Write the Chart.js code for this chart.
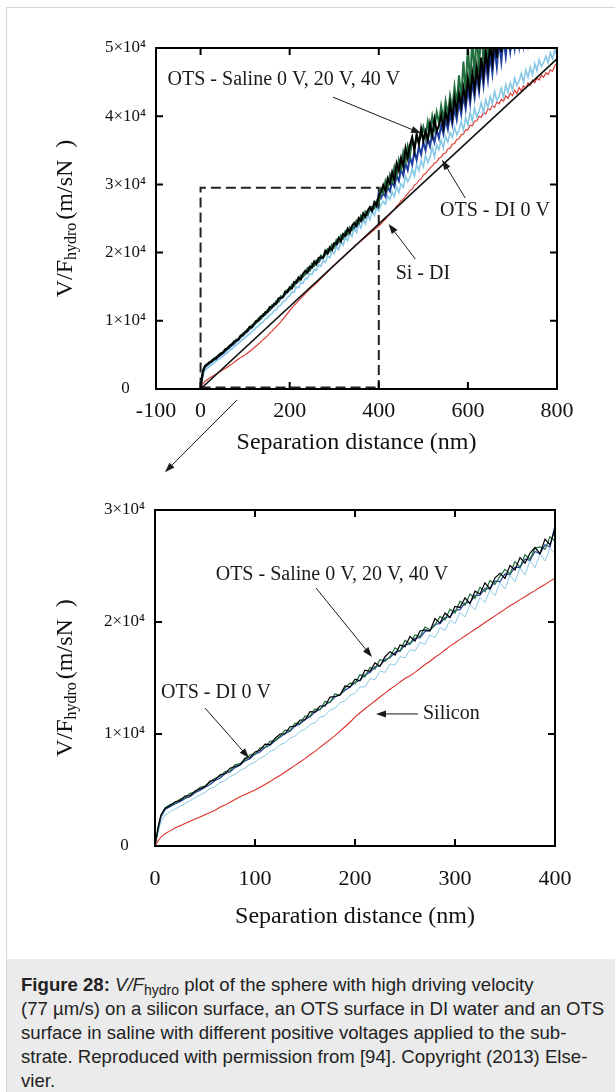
<!DOCTYPE html>
<html>
<head>
<meta charset="utf-8">
<script src="https://cdn.jsdelivr.net/npm/chart.js@4.4.1/dist/chart.umd.min.js"></script>
<style>
html,body{margin:0;padding:0;background:#fff;}
body{width:615px;height:1092px;position:relative;overflow:hidden;font-family:"Liberation Sans",Arial,sans-serif;}
#frame{position:absolute;left:6px;top:7px;right:-2px;bottom:-2px;border-left:1px solid #d6d6d6;border-top:1px solid #d6d6d6;}
#topChart{position:absolute;left:0;top:0;}
#bottomChart{position:absolute;left:0;top:480px;}
.caption{position:absolute;left:7px;top:959px;right:0;bottom:0;background:#ebebeb;padding:14px 0 0 14px;font-size:18.6px;line-height:24px;color:#222;}
.caption sub{font-size:14px;vertical-align:-4px;line-height:0;}
</style>
</head>
<body>
<div id="frame"></div>
<canvas id="topChart" width="615" height="480"></canvas>
<canvas id="bottomChart" width="615" height="470"></canvas>
<div class="caption"><b>Figure 28:</b> <i>V/F</i><sub>hydro</sub> plot of the sphere with high driving velocity<br>(77 µm/s) on a silicon surface, an OTS surface in DI water and an OTS<br>surface in saline with different positive voltages applied to the sub-<br>strate. Reproduced with permission from [94]. Copyright (2013) Else-<br>vier.</div>
<script>
// separation distance (nm) shared by all curves
const separationNm = [
  0,3,6,10,15,20,25,30,35,40,45,50,
  55,60,65,70,75,80,85,90,95,100,
  105,110,115,120,125,130,135,140,145,150,
  155,160,165,170,175,180,185,190,195,200,
  205,210,215,220,225,230,235,240,245,250,
  255,260,265,270,275,280,285,290,295,300,
  305,310,315,320,325,330,335,340,345,350,
  355,360,365,370,375,380,385,390,395,400,
  405,410,415,420,425,430,435,440,445,450,
  455,460,465,470,475,480,485,490,495,500,
  505,510,515,520,525,530,535,540,545,550,
  555,560,565,570,575,580,585,590,595,600,
  605,610,615,620,625,630,635,640,645,650,
  655,660,665,670,675,680,685,690,695,700,
  705,710,715,720,725,730,735,740,745,750,
  755,760,765,770,775,780,785,790,795,800
];
// V/F_hydro (m/sN)
const salineBlack = [
  0,1700,2800,3350,3600,3950,4050,4450,4500,4900,5100,5300,
  5800,5900,6350,6450,6950,7100,7250,7850,7900,8400,
  8550,9100,9050,9600,10000,10000,10650,10700,11250,11250,
  12000,11950,12500,12500,13300,13350,13500,14300,14200,14900,
  14750,15700,15600,16350,16050,16900,17350,17050,17950,17800,
  18700,18300,19200,19300,19200,20300,19900,20800,20400,21400,
  21300,22150,21650,22750,22500,23500,22950,23950,24350,23900,
  25050,24650,25750,25250,26150,26650,26100,27400,26900,28300,
  28900,29900,29000,30900,30100,31800,30600,33100,32000,33900,
  32600,35300,33800,35800,36900,34900,37300,35900,38200,36400,
  37800,36500,38900,37200,39600,37800,38600,40100,38300,40600,
  39200,41800,39700,42600,40800,43300,41500,44200,42300,45500,
  43100,46300,43900,47200,44600,48600,45800,49500,46900,50600,
  47800,51500,48600,52500,49400,53200,50200,54000,49800,54500,
  50600,55000,50100,55500,51200,56000,50800,56000,51500,56500,
  51800,57000,52300,57000,52500,57500,53000,57500,53500,58000
];
const salineGreen = [
  0,1500,2700,3400,3700,3800,4200,4300,4700,4800,5250,5350,
  5700,6050,6200,6650,6700,7250,7350,7650,8150,8200,
  8750,8800,9350,9400,9800,10350,10300,10950,10950,11600,
  11600,12250,12150,12900,12800,13600,13450,14100,14550,14500,
  15300,15100,15950,15800,16650,16500,16900,17700,17400,18350,
  18050,18850,18700,19550,19300,19700,20500,20200,21150,20800,
  21850,21500,22500,22100,23100,22700,23700,23350,24100,24700,
  24300,25400,24900,26000,25600,26600,26700,26500,27600,27200,
  29300,28700,30500,29600,31400,30400,32500,31300,33600,32400,
  34700,33300,35600,34300,36600,35400,37300,36200,37100,38400,
  36800,39200,37500,40000,38200,40600,39000,41500,39600,42200,
  40200,43000,41000,44300,41800,46000,42600,48000,43500,50500,
  44200,52000,45300,53000,46300,54000,47400,54500,48200,55000,
  49000,55500,49500,56000,50000,56000,50500,56500,51000,57000,
  51500,57000,52000,57500,52000,57500,52500,58000,52500,58000,
  53000,58000,53000,58500,53500,58500,53500,59000,54000,59000
];
const salineBlue = [
  0,1400,2600,3250,3500,3750,3950,4250,4400,4750,4950,5250,
  5500,5850,6050,6450,6600,7000,7200,7600,7800,8200,
  8400,8800,9000,9400,9700,10050,10250,10700,10900,11300,
  11550,11950,12200,12600,12850,13300,13500,13900,14200,14600,
  14800,15300,15500,16000,16100,16650,16800,17300,17400,17950,
  18050,18550,18600,19150,19250,19800,19850,20400,20450,21050,
  21100,21700,21750,22350,22400,23000,22950,23650,23600,24300,
  24250,24900,24850,25600,25500,26300,26100,26900,26700,28600,
  28000,28800,28200,29600,29000,30400,29700,31300,30500,32200,
  31300,33100,32100,34000,32900,34800,33600,35500,34400,36200,
  35000,36800,35600,37400,36200,38000,36800,38700,37400,39500,
  38100,40300,38800,41200,39500,42100,40300,43000,41100,44000,
  41900,45000,42800,46000,43600,47000,44500,48000,45400,49000,
  46300,50000,47200,51000,48000,51500,48800,52000,49500,52500,
  50000,53000,50300,53500,50600,54000,50900,54000,51200,54500,
  51500,54500,51800,55000,52000,55000,52200,55500,52500,55500
];
const otsDiLight = [
  0,1200,2200,2750,3050,3300,3550,3800,4050,4300,4550,4800,
  5100,5300,5650,5850,6200,6400,6750,6950,7300,7500,
  7850,8050,8450,8600,9050,9200,9650,9800,10250,10400,
  10850,11000,11500,11650,12150,12300,12800,12950,13450,13650,
  14200,14200,14950,14850,15600,15500,16250,16150,16900,16800,
  17550,17400,18200,18000,18850,18600,19500,19250,20150,19850,
  20850,20450,21550,21100,22200,21750,22850,22350,23550,22950,
  24200,23600,24850,24200,25500,24850,26100,25450,26600,26100,
  27000,27500,27100,28300,27800,28900,28200,29700,28800,30100,
  29600,31200,30400,31000,32300,31200,33000,32000,33500,32600,
  34300,33200,34000,35400,34100,35800,35100,36500,35300,37100,
  36200,37600,36900,38400,37300,37900,39200,38000,39800,38700,
  40600,39300,41200,39900,40700,42000,40500,42400,41300,42900,
  41800,43600,42300,42900,44100,42800,44600,43500,44900,43900,
  45600,44500,45200,46300,45000,46800,45700,47200,46100,47700,
  46700,48300,47300,47900,48800,47800,49300,48400,49700,49000
];
const siliconRed = [
  0,450,800,1100,1350,1600,1800,2000,2200,2400,2600,2800,
  3000,3200,3450,3650,3900,4150,4400,4600,4800,5000,
  5250,5500,5750,6050,6300,6600,6900,7200,7500,7800,
  8150,8450,8800,9150,9500,9850,10250,10650,11050,11500,
  11900,12250,12600,12950,13300,13650,14000,14300,14650,14950,
  15200,15500,15850,16200,16500,16850,17150,17500,17850,18150,
  18450,18750,19050,19350,19650,19950,20250,20550,20850,21150,
  21450,21700,22000,22250,22550,22800,23100,23350,23650,23900,
  24200,24600,24900,25300,25600,26000,26300,26800,27100,27600,
  27800,28300,28600,29100,29300,29900,30100,30600,30800,31400,
  31600,32000,32400,32700,33100,33300,33800,34000,34500,34600,
  35200,35300,35900,36000,36600,36700,37300,37400,38000,38000,
  38700,38600,39300,39300,40000,39800,40600,40300,41100,40900,
  41600,41300,42100,41800,42500,42200,43000,42600,43400,43000,
  43800,43300,44200,43700,44500,44100,44900,44500,45300,44900,
  45600,45300,46000,45700,46400,46100,46800,46600,47400,47800
];
const fitNm = [0, 800];
const fitV = [0, 48400];

const topXTicks = [-100, 0, 200, 400, 600, 800];
const topYTicks = [0, 10000, 20000, 30000, 40000, 50000];
const bottomXTicks = [0, 100, 200, 300, 400];
const bottomYTicks = [0, 10000, 20000, 30000];

const serif = '"Liberation Serif", "Times New Roman", serif';
Chart.defaults.font.family = serif;
Chart.defaults.color = '#111';

function series(ys, xs, maxNm) {
  return xs.map((x, i) => ({x: x, y: ys[i]})).filter(p => p.x <= maxNm);
}
function yLabel(v) {
  return v === 0 ? '0' : (v / 10000) + '×10⁴';
}
function arrow(ctx, x1, y1, x2, y2) {
  const a = Math.atan2(y2 - y1, x2 - x1);
  ctx.beginPath();
  ctx.moveTo(x1, y1);
  ctx.lineTo(x2 - 6 * Math.cos(a), y2 - 6 * Math.sin(a));
  ctx.stroke();
  ctx.beginPath();
  ctx.moveTo(x2, y2);
  ctx.lineTo(x2 - 10 * Math.cos(a) + 3.5 * Math.sin(a), y2 - 10 * Math.sin(a) - 3.5 * Math.cos(a));
  ctx.lineTo(x2 - 10 * Math.cos(a) - 3.5 * Math.sin(a), y2 - 10 * Math.sin(a) + 3.5 * Math.cos(a));
  ctx.closePath();
  ctx.fill();
}

// frame, inward ticks, dashed zoom box, notes and the y title
const framePlugin = {
  id: 'frame',
  beforeDatasetsDraw(chart, args, o) {
    if (!o.box) return;
    const {ctx, scales: {x, y}} = chart;
    const l = x.getPixelForValue(o.box[0]), r = x.getPixelForValue(o.box[1]);
    const b = y.getPixelForValue(o.box[2]) - 1.5, t = y.getPixelForValue(o.box[3]);
    ctx.save();
    ctx.setLineDash([10, 5]);
    ctx.lineWidth = 2;
    ctx.strokeStyle = '#222';
    ctx.beginPath();
    ctx.moveTo(l, b); ctx.lineTo(l, t); ctx.lineTo(r, t); ctx.lineTo(r, b);
    ctx.moveTo(l, b); ctx.lineTo(r, b);
    ctx.stroke();
    ctx.restore();
  },
  afterDatasetsDraw(chart, args, o) {
    const {ctx, chartArea: ca, scales: {x, y}} = chart;
    ctx.save();
    ctx.strokeStyle = '#000';
    ctx.lineWidth = 2;
    ctx.strokeRect(ca.left, ca.top, ca.right - ca.left, ca.bottom - ca.top);
    ctx.beginPath();
    o.innerX.forEach(v => {
      const px = x.getPixelForValue(v);
      ctx.moveTo(px, ca.bottom); ctx.lineTo(px, ca.bottom - 7);
      ctx.moveTo(px, ca.top); ctx.lineTo(px, ca.top + 7);
    });
    o.innerY.forEach(v => {
      const py = y.getPixelForValue(v);
      ctx.moveTo(ca.left, py); ctx.lineTo(ca.left + 7, py);
      ctx.moveTo(ca.right, py); ctx.lineTo(ca.right - 7, py);
    });
    ctx.stroke();
    ctx.fillStyle = '#1a1a1a';
    ctx.strokeStyle = '#1a1a1a';
    ctx.lineWidth = 1;
    ctx.font = '20px ' + serif;
    ctx.textBaseline = 'middle';
    o.notes.forEach(n => {
      ctx.textAlign = n.align || 'center';
      ctx.fillText(n.text, x.getPixelForValue(n.x), y.getPixelForValue(n.y));
    });
    o.arrows.forEach(a => {
      arrow(ctx, x.getPixelForValue(a[0]), y.getPixelForValue(a[1]),
        x.getPixelForValue(a[2]), y.getPixelForValue(a[3]));
    });
    // y axis title with subscript
    const big = '24px ' + serif, small = '16px ' + serif;
    const p1 = 'V/F', p2 = 'hydro', p3 = '(m/sN  )';
    ctx.font = big; const w1 = ctx.measureText(p1).width, w3 = ctx.measureText(p3).width;
    ctx.font = small; const w2 = ctx.measureText(p2).width + 3;
    const total = w1 + w2 + w3;
    ctx.translate(66, (ca.top + ca.bottom) / 2);
    ctx.rotate(-Math.PI / 2);
    ctx.textAlign = 'left';
    ctx.textBaseline = 'middle';
    ctx.fillStyle = '#111';
    let cx = -total / 2;
    ctx.font = big; ctx.fillText(p1, cx, 0); cx += w1;
    ctx.font = small; ctx.fillText(p2, cx, 6); cx += w2;
    ctx.font = big; ctx.fillText(p3, cx, 0);
    ctx.restore();
  }
};

function makeChart(id, maxNm, lw, opts) {
  const xs = separationNm;
  const ds = [
    {data: series(salineBlack, xs, maxNm), borderColor: '#000000', borderWidth: lw, order: 0},
    {data: series(salineGreen, xs, maxNm), borderColor: '#1f6e3c', borderWidth: lw, order: 1},
    {data: series(salineBlue, xs, maxNm), borderColor: '#1e3f9e', borderWidth: lw, order: 2},
    {data: series(otsDiLight, xs, maxNm), borderColor: '#86c8e6', borderWidth: lw * 0.8, order: 3},
    {data: series(siliconRed, xs, maxNm), borderColor: '#dc3128', borderWidth: 1.1, order: 5}
  ];
  if (opts.fit) {
    ds.push({data: series(fitV, fitNm, maxNm), borderColor: '#111', borderWidth: 1.6, order: 4});
  }
  ds.forEach(d => { d.pointRadius = 0; d.tension = 0; d.fill = false; });
  return new Chart(document.getElementById(id), {
    type: 'line',
    data: {datasets: ds},
    options: {
      responsive: false,
      animation: false,
      devicePixelRatio: 1,
      layout: {padding: opts.padding},
      plugins: {
        legend: {display: false},
        tooltip: {enabled: false},
        frame: {box: opts.box, innerX: opts.innerX, innerY: opts.innerY, notes: opts.notes, arrows: opts.arrows}
      },
      scales: {
        x: {
          type: 'linear', min: opts.xMin, max: opts.xMax,
          afterBuildTicks: s => { s.ticks = opts.xTicks.map(v => ({value: v})); },
          afterFit: s => { s.height = opts.xHeight; },
          grid: {display: false, drawTicks: false},
          border: {display: false},
          ticks: {font: {size: 22}, padding: opts.xPad, maxRotation: 0, autoSkip: false},
          title: {display: true, text: 'Separation distance (nm)', font: {size: 24}, padding: 0}
        },
        y: {
          type: 'linear', min: 0, max: opts.yMax,
          afterBuildTicks: s => { s.ticks = opts.yTicks.map(v => ({value: v})); },
          afterFit: s => { s.width = 70; },
          grid: {display: false, drawTicks: false},
          border: {display: false},
          ticks: {font: {size: 17}, padding: 10, crossAlign: 'center', callback: yLabel}
        }
      }
    },
    plugins: [framePlugin]
  });
}

makeChart('topChart', 800, 2, {
  fit: true,
  padding: {left: 86, right: 58, top: 48, bottom: 23},
  xMin: -100, xMax: 800, yMax: 50000,
  xTicks: topXTicks, yTicks: topYTicks,
  xHeight: 68, xPad: 9,
  innerX: [0, 200, 400, 600], innerY: [10000, 20000, 30000, 40000],
  box: [0, 400, 0, 29500],
  notes: [
    {text: 'OTS - Saline 0 V, 20 V, 40 V', x: 187, y: 45300},
    {text: 'OTS - DI 0 V', x: 661, y: 26100},
    {text: 'Si - DI', x: 499, y: 16860}
  ],
  arrows: [
    [297, 42800, 495, 37500],
    [594, 28000, 542, 33600],
    [482, 19060, 422, 24200],
    [82, -1600, -80, -12200]
  ]
});

makeChart('bottomChart', 400, 1.2, {
  fit: false,
  padding: {left: 85, right: 60, top: 30, bottom: 19},
  xMin: 0, xMax: 400, yMax: 30000,
  xTicks: bottomXTicks, yTicks: bottomYTicks,
  xHeight: 85, xPad: 20,
  innerX: [100, 200, 300], innerY: [10000, 20000],
  box: null,
  notes: [
    {text: 'OTS - Saline 0 V, 20 V, 40 V', x: 177, y: 24200},
    {text: 'OTS - DI 0 V', x: 61, y: 13660},
    {text: 'Silicon', x: 268, y: 11790, align: 'left'}
  ],
  arrows: [
    [161, 23040, 217, 16875],
    [50, 12320, 94, 7860],
    [263, 11790, 221, 11790]
  ]
});
</script>
</body>
</html>
